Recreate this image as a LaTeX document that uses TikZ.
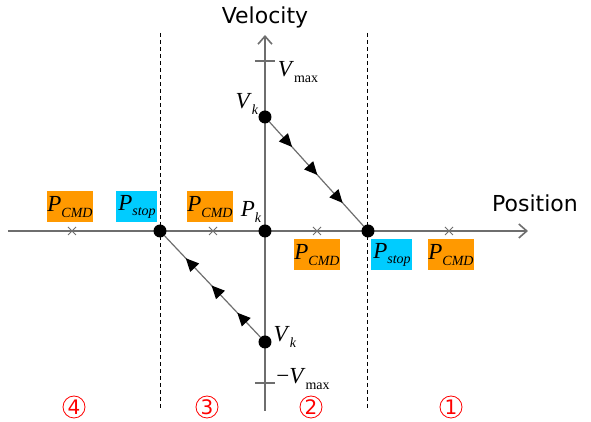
\documentclass[tikz,border=0pt]{standalone}
\usepackage{fontspec}
\usetikzlibrary{arrows.meta,decorations.markings,shapes.misc}
\setmainfont{Liberation Serif}
\newfontfamily\axisfont{DejaVu Sans}
\definecolor{cmdorange}{RGB}{255,153,0}
\definecolor{stopcyan}{RGB}{0,204,255}
\definecolor{axisgray}{RGB}{110,110,110}
% italic letter with a low subscript
\newcommand{\lowsub}[2]{\textit{#1}\raisebox{-0.55ex}{\fontsize{7}{7}\selectfont #2}}

\begin{document}
\begin{tikzpicture}[x=0.5pt,y=-0.5pt,>=stealth,
	axis/.style={draw=axisgray,line width=0.8pt},
	zone/.style={draw=black,line width=0.5pt,dash pattern=on 2pt off 1.5pt},
	dot/.style={circle,fill=black,inner sep=0pt,minimum size=6.5pt},
	xmark/.style={cross out,draw=axisgray,inner sep=0pt,minimum size=3.5pt,line width=0.5pt},
	lab/.style={inner sep=0pt,font=\fontsize{11.5}{11.5}\selectfont},
	cmd/.style={lab,fill=cmdorange,minimum width=23pt,minimum height=15.5pt},
	stop/.style={lab,fill=stopcyan,minimum width=20.5pt,minimum height=15.5pt},
	zonenum/.style={circle,draw=red,line width=0.4pt,text=red,inner sep=0pt,
		minimum size=11pt,font=\axisfont\fontsize{10}{10}\selectfont},
	flow/.style={draw=axisgray,line width=0.6pt,
		decoration={markings,
			mark=at position 0.24 with {\arrow[black]{Triangle[length=6.5pt,width=6pt]}},
			mark=at position 0.51 with {\arrow[black]{Triangle[length=6.5pt,width=6pt]}},
			mark=at position 0.78 with {\arrow[black]{Triangle[length=6.5pt,width=6pt]}}},
		postaction={decorate}}]
	\useasboundingbox (0,0) rectangle (591,422);

	% axes
	\coordinate (xl) at (8,231);
	\coordinate (xr) at (528,231);
	\coordinate (yb) at (265,411);
	\coordinate (yt) at (265,35);
	\draw[axis,-{Straight Barb[length=4pt,width=7pt]}] (xl) -- (xr);
	\draw[axis,-{Straight Barb[length=4pt,width=7pt]}] (yb) -- (yt);
	\node[font=\axisfont\fontsize{11}{11}\selectfont] (vel) at (265,17) {Velocity};
	\node[font=\axisfont\fontsize{11}{11}\selectfont] (pos) at (535,203) {Position};

	% zone borders
	\foreach \x/\n in {161/zl,368/zr}{
		\coordinate (\n-t) at (\x,33);
		\coordinate (\n-b) at (\x,411);
		\draw[zone] (\n-t) -- (\n-b);
	}

	% limits
	\coordinate (vmax-l) at (255,61);
	\coordinate (vmax-r) at (275,61);
	\coordinate (vmin-l) at (255,383);
	\coordinate (vmin-r) at (275,383);
	\draw[axis] (vmax-l) -- (vmax-r);
	\draw[axis] (vmin-l) -- (vmin-r);
	\node[lab] (lvmax) at (298,72) {\lowsub{V}{max}};
	\node[lab] (lvmin) at (303,379) {−\lowsub{V}{max}};

	% states
	\node[dot] (vk1) at (265,117) {};
	\node[dot] (vk2) at (265,342) {};
	\node[dot] (pk) at (265,231) {};
	\node[dot] (ps1) at (368,231) {};
	\node[dot] (ps2) at (160,231) {};
	\node[lab] (lvk1) at (247,104) {\lowsub{V}{\textit{k}}};
	\node[lab] (lvk2) at (285,337) {\lowsub{V}{\textit{k}}};
	\node[lab] (lpk) at (251,212) {\lowsub{P}{\textit{k}}};

	\draw[flow] (vk1) -- (ps1);
	\draw[flow] (vk2) -- (ps2);

	% command positions
	\foreach \x/\n in {72/c4,213/c3,317/c2,449/c1}{
		\node[xmark] (\n) at (\x,231) {};
	}
	\node[cmd] (cmd4) at (70,207) {\lowsub{P}{\textit{CMD}}};
	\node[stop] (stop3) at (137,207) {\lowsub{P}{\textit{stop}}};
	\node[cmd] (cmd3) at (210,207) {\lowsub{P}{\textit{CMD}}};
	\node[cmd] (cmd2) at (317,255) {\lowsub{P}{\textit{CMD}}};
	\node[stop] (stop1) at (392,255) {\lowsub{P}{\textit{stop}}};
	\node[cmd] (cmd1) at (451,255) {\lowsub{P}{\textit{CMD}}};

	% zone numbers
	\foreach \x/\n in {74/4,207/3,311/2,451/1}{
		\node[zonenum] (z\n) at (\x,407) {\n};
	}
\end{tikzpicture}
\end{document}
